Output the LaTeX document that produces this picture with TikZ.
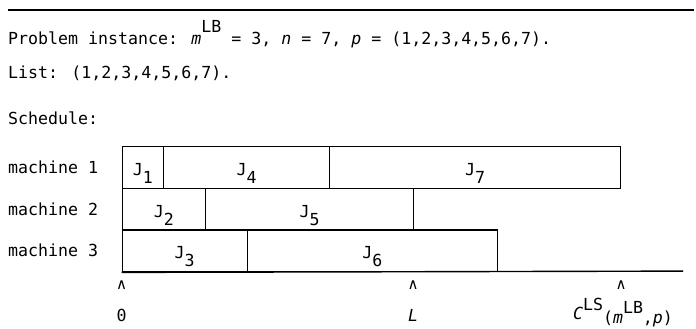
\documentclass[tikz,border=0pt]{standalone}
\usepackage{fontspec}
\setmainfont{DejaVu Sans Mono}
\newfontfamily\caretfont{DejaVu Sans}
\begin{document}
\fontsize{16.6}{20}\selectfont
\begin{tikzpicture}[x=1pt,y=-1pt,
  txt/.style={inner sep=0pt, anchor=base west},
  cell/.style={draw, line width=1.3pt, inner sep=0pt, minimum height=41.7pt, anchor=north west},
  lbl/.style={inner sep=0pt, anchor=base},
  caret/.style={inner sep=0pt, anchor=base, font=\caretfont\fontsize{15}{15}\selectfont},
  rule/.style={line width=1.4pt}
]
\useasboundingbox (0,0) rectangle (696,329);
% top rule
\coordinate (r1) at (8,10);
\coordinate (r2) at (694,10);
\draw[rule] (r1) -- (r2);
% text lines
\node[txt] (prob) at (8,45) {Problem instance: \textit{m}\raisebox{12pt}{LB} = 3, \textit{n} = 7, \textit{p} = (1,2,3,4,5,6,7).};
\node[txt] (list) at (8,78) {List: (1,2,3,4,5,6,7).};
\node[txt] (sched) at (8,124) {Schedule:};
\node[txt] (m1) at (8,173) {machine 1};
\node[txt] (m2) at (8,215) {machine 2};
\node[txt] (m3) at (8,256) {machine 3};
% machine 1
\node[cell, minimum width=41.5pt]  (j1) at (121.5,146) {};
\node[cell, minimum width=166pt]   (j4) at (163,146) {};
\node[cell, minimum width=291pt]   (j7) at (329,146) {};
% machine 2
\node[cell, minimum width=83.5pt]  (j2) at (121.5,187.7) {};
\node[cell, minimum width=208pt]   (j5) at (205,187.7) {};
% machine 3
\node[cell, minimum width=125pt]   (j3) at (121.5,229.4) {};
\node[cell, minimum width=250.5pt] (j6) at (246.5,229.4) {};
% job labels
\node[lbl] (l1) at ([yshift=-8pt]j1.center) {J\raisebox{-8pt}{1}};
\node[lbl] (l4) at ([yshift=-8pt]j4.center) {J\raisebox{-8pt}{4}};
\node[lbl] (l7) at ([yshift=-8pt]j7.center) {J\raisebox{-8pt}{7}};
\node[lbl] (l2) at ([yshift=-8pt]j2.center) {J\raisebox{-8pt}{2}};
\node[lbl] (l5) at ([yshift=-8pt]j5.center) {J\raisebox{-8pt}{5}};
\node[lbl] (l3) at ([yshift=-8pt]j3.center) {J\raisebox{-8pt}{3}};
\node[lbl] (l6) at ([yshift=-8pt]j6.center) {J\raisebox{-8pt}{6}};
% time axis
\coordinate (axend) at (683,271.1);
\draw[rule] (j3.south west) -- (axend);
% markers
\node[caret] (c0) at (121.5,289) {∧};
\node[caret] (cL) at (413,289) {∧};
\node[caret] (cC) at (621,289) {∧};
\node[lbl] (t0) at (121.5,321) {0};
\node[lbl] (tL) at (413,321) {\textit{L}};
\node[lbl] (tC) at (623,319) {\textit{C}\raisebox{9pt}{LS}\raisebox{-4pt}{(\textit{m}\raisebox{10pt}{LB},\textit{p})}};
\end{tikzpicture}
\end{document}
